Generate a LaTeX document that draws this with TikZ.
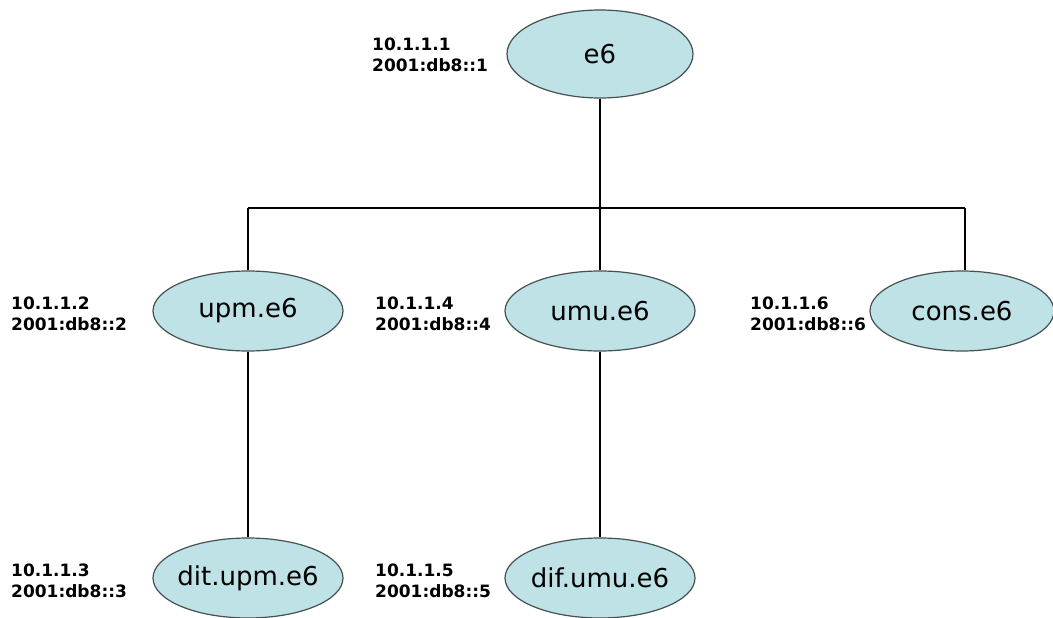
\documentclass[tikz,border=0pt]{standalone}
\usepackage{fontspec}
\setmainfont{DejaVu Sans}
\usetikzlibrary{shapes.geometric}
\definecolor{hostfill}{RGB}{190,226,230}
\definecolor{hostedge}{RGB}{70,80,80}
\tikzset{
  host/.style={ellipse,draw=hostedge,line width=1.2pt,fill=hostfill,
    minimum width=190pt,minimum height=80pt,inner sep=0pt,
    font=\fontsize{26}{28}\selectfont},
  addr/.style={anchor=west,align=left,inner sep=0pt,
    font=\bfseries\fontsize{17}{21}\selectfont},
  link/.style={line width=2.8pt,black}
}
\newcommand{\hostname}[1]{\makebox[118pt]{#1}}
\begin{document}
\begin{tikzpicture}[x=1pt,y=-1pt]
  \useasboundingbox (0,0) rectangle (1053,618);
  % Root
  \node[host,minimum height=88pt,minimum width=186pt] (e6) at (600,54) {e6};
  \node[addr] (ipE6) at (372,55) {10.1.1.1\\2001:db8::1};

  % Second level
  \node[host] (upm) at (248,311) {upm.e6};
  \node[addr] (ipUpm) at (11,314) {10.1.1.2\\2001:db8::2};
  \node[host] (umu) at (600,311) {umu.e6};
  \node[addr] (ipUmu) at (375,314) {10.1.1.4\\2001:db8::4};
  \node[host,minimum width=184pt] (cons) at (962,311) {cons.e6};
  \node[addr] (ipCons) at (750,314) {10.1.1.6\\2001:db8::6};

  % Third level
  \node[host] (dit) at (248,578) {\hostname{dit.upm.e6}};
  \node[addr] (ipDit) at (11,581) {10.1.1.3\\2001:db8::3};
  \node[host] (dif) at (600,578) {\hostname{dif.umu.e6}};
  \node[addr] (ipDif) at (375,581) {10.1.1.5\\2001:db8::5};

  % Bus and links
  \coordinate (busL) at (248,208);
  \coordinate (busR) at (965,208);
  \draw[link] (busL) -- (busR);
  \draw[link] (e6.south) -- (e6.south |- busL);
  \draw[link] (upm.north) -- (upm.north |- busL);
  \draw[link] (umu.north) -- (umu.north |- busL);
  \draw[link] (cons.north -| busR) -- (busR);
  \draw[link] (upm.south) -- (dit.north);
  \draw[link] (umu.south) -- (dif.north);
\end{tikzpicture}
\end{document}
